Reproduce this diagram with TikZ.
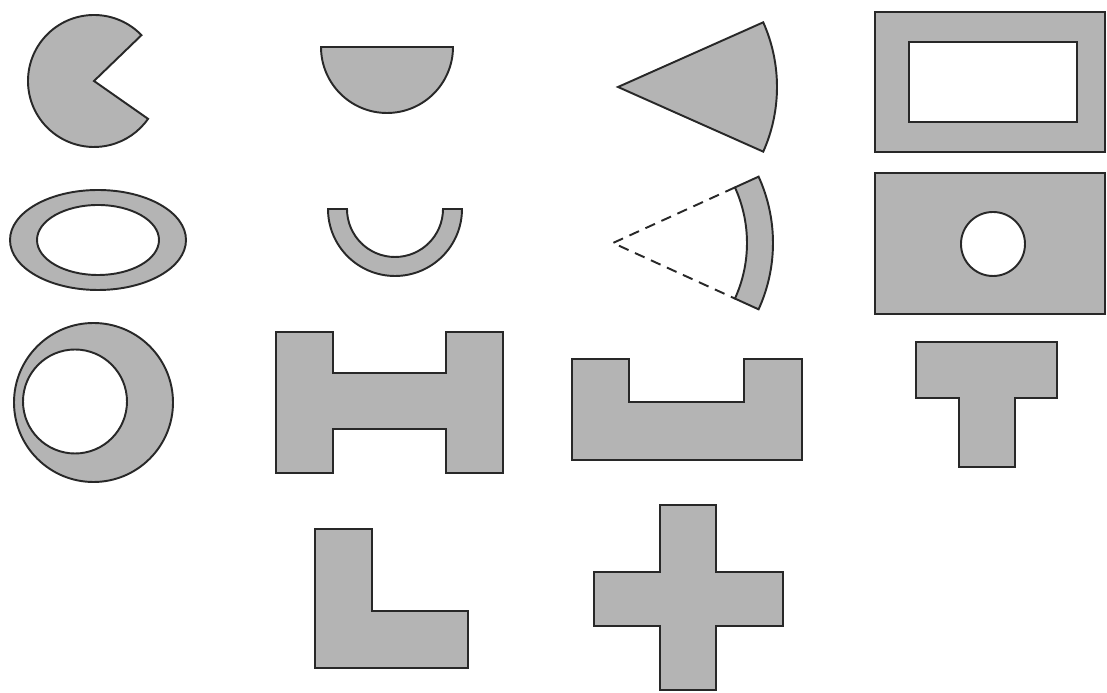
\documentclass[tikz,border=0pt]{standalone}
\usepackage{tikz}
\definecolor{cfill}{RGB}{180,180,180}
\definecolor{cline}{RGB}{ 40, 40, 40}

\begin{document}
\begin{tikzpicture}[x=0.02cm,y=0.02cm,
    part/.style={fill=cfill,draw=cline,line width=1.1pt,line join=miter},
    hole/.style={part,even odd rule}]

  % Explicit bounding box, matching the 1107 x 693 frame.
  \useasboundingbox (0,0) rectangle (1107,693);

  % ---------------- First row ----------------
  % circle with a wedge cut out
  \draw[part] (94,612) -- ++(44:66) arc (44:325:66) -- cycle;
  % half disc
  \draw[part] (321,646) arc (180:360:66) -- cycle;
  % circular sector
  \draw[part] (618,606) -- ++(24:159) arc (24:-24:159) -- cycle;
  % rectangular frame
  \draw[hole] (875,541) rectangle (1105,681) (909,571) rectangle (1077,651);

  % ---------------- Second row ----------------
  % elliptical ring
  \draw[hole] (98,453) ellipse [x radius=88,y radius=50]
              (98,453) ellipse [x radius=61,y radius=35];
  % half ring
  \draw[part] (328,484) arc (180:360:67) -- (443,484) arc (0:-180:48) -- cycle;
  % ring sector, with the dashed sides to its centre
  \coordinate (apex) at (613,450);
  \draw[part] ([shift={(24.5:134)}]apex) -- ([shift={(24.5:160)}]apex)
    arc (24.5:-24.5:160) -- ([shift={(-24.5:134)}]apex)
    arc (-24.5:24.5:134) -- cycle;
  \draw[cline,line width=1.1pt,dashed,dash pattern=on 6pt off 4pt]
    ([shift={(24.5:134)}]apex) -- (apex) -- ([shift={(-24.5:134)}]apex);
  % plate with a round hole
  \draw[hole] (875,379) rectangle (1105,520) (993,449) circle [radius=32];

  % ---------------- Third row ----------------
  % ring with an off-centre hole
  \draw[hole] (93.5,290.5) circle [radius=79.5] (75,291.5) circle [radius=52];
  % H section
  \draw[part] (276,220) -- (276,361) -- (333,361) -- (333,320) -- (446,320)
    -- (446,361) -- (503,361) -- (503,220) -- (446,220) -- (446,264)
    -- (333,264) -- (333,220) -- cycle;
  % U section
  \draw[part] (572,233) -- (572,334) -- (629,334) -- (629,291) -- (744,291)
    -- (744,334) -- (802,334) -- (802,233) -- cycle;
  % T section
  \draw[part] (916,351) -- (1057,351) -- (1057,295) -- (1015,295)
    -- (1015,226) -- (959,226) -- (959,295) -- (916,295) -- cycle;

  % ---------------- Fourth row ----------------
  % L section
  \draw[part] (315,164) -- (372,164) -- (372,82) -- (468,82) -- (468,25)
    -- (315,25) -- cycle;
  % cross
  \draw[part] (660,188) -- (716,188) -- (716,121) -- (783,121) -- (783,67)
    -- (716,67) -- (716,3) -- (660,3) -- (660,67) -- (594,67) -- (594,121)
    -- (660,121) -- cycle;

\end{tikzpicture}
\end{document}
